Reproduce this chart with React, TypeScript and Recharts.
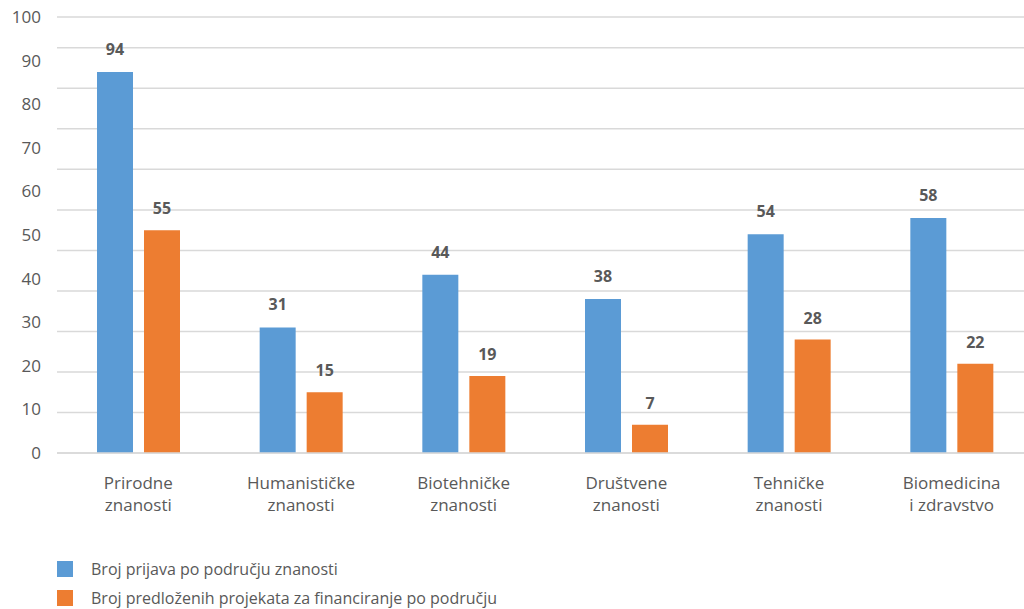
import React from 'react';
import { BarChart, Bar, XAxis, YAxis, CartesianGrid, LabelList, Legend } from 'recharts';

const categories = [
  'Prirodne znanosti',
  'Humanističke znanosti',
  'Biotehničke znanosti',
  'Društvene znanosti',
  'Tehničke znanosti',
  'Biomedicina i zdravstvo',
];
const prijave = [94, 31, 44, 38, 54, 58];
const predlozeni = [55, 15, 19, 7, 28, 22];
const seriesNames = [
  'Broj prijava po području znanosti',
  'Broj predloženih projekata za financiranje po području',
];
const labelTicks = [0, 10, 20, 30, 40, 50, 60, 70, 80, 90, 100];
const valueMax = 107.6;
const gridTicks = [0, 10, 20, 30, 40, 50, 60, 70, 80, 90, 100, valueMax];

const BLUE = '#5b9bd5';
const ORANGE = '#ed7d31';
const TEXT = '#595959';
const FONT = '"Open Sans", "DejaVu Sans", sans-serif';

const data = categories.map((c, i) => ({ name: c, a: prijave[i], b: predlozeni[i] }));

const XTick = (props: any) => {
  const { x, y, payload } = props;
  const s: string = payload.value;
  const idx = s.indexOf(' ');
  const l1 = s.slice(0, idx);
  const l2 = s.slice(idx + 1);
  return (
    <text x={x} y={y} textAnchor="middle" fill={TEXT} fontSize={17} fontFamily={FONT}>
      <tspan x={x} dy={28}>{l1}</tspan>
      <tspan x={x} dy={22}>{l2}</tspan>
    </text>
  );
};

const LegendContent = () => (
  <div style={{ fontFamily: FONT, fontSize: 16, color: TEXT }}>
    {[BLUE, ORANGE].map((c, i) => (
      <div key={i} style={{ display: 'flex', alignItems: 'flex-start', marginBottom: 7 }}>
        <div style={{ width: 16, height: 16, background: c, marginTop: 3, flexShrink: 0 }} />
        <div style={{ marginLeft: 18, lineHeight: '22px', whiteSpace: 'nowrap' }}>{seriesNames[i]}</div>
      </div>
    ))}
  </div>
);

export default function App() {
  return (
    <div style={{ position: 'fixed', left: 0, top: 0, width: 1024, height: 609, overflow: 'hidden', background: '#fff' }}>
      <BarChart
        width={1033}
        height={609}
        data={data}
        margin={{ top: 17, right: 0, bottom: 0, left: 0 }}
        barCategoryGap={40}
        barGap={11}
      >
        <CartesianGrid yAxisId="val" vertical={false} stroke="#d9d9d9" strokeWidth={1.5} />
        <XAxis
          dataKey="name"
          height={156}
          axisLine={{ stroke: '#d9d9d9', strokeWidth: 1.5 }}
          tickLine={false}
          interval={0}
          tick={<XTick />}
        />
        <YAxis
          yAxisId="lbl"
          type="number"
          domain={[0, 100]}
          allowDataOverflow
          ticks={labelTicks}
          interval={0}
          width={57}
          axisLine={false}
          tickLine={false}
          tickMargin={10}
          tick={{ fill: TEXT, fontSize: 17, fontFamily: FONT }}
        />
        <YAxis yAxisId="val" type="number" domain={[0, valueMax]} ticks={gridTicks} hide />
        <Legend
          layout="horizontal"
          align="center"
          verticalAlign="middle"
          content={<LegendContent />}
          wrapperStyle={{ position: 'absolute', top: 558, left: 57, width: 600 }}
        />
        <Bar yAxisId="val" dataKey="a" name={seriesNames[0]} fill={BLUE} isAnimationActive={false}>
          <LabelList dataKey="a" position="top" offset={17} fill={TEXT} fontSize={16} fontWeight={700} fontFamily={FONT} />
        </Bar>
        <Bar yAxisId="val" dataKey="b" name={seriesNames[1]} fill={ORANGE} isAnimationActive={false}>
          <LabelList dataKey="b" position="top" offset={16} fill={TEXT} fontSize={16} fontWeight={700} fontFamily={FONT} />
        </Bar>
      </BarChart>
    </div>
  );
}
